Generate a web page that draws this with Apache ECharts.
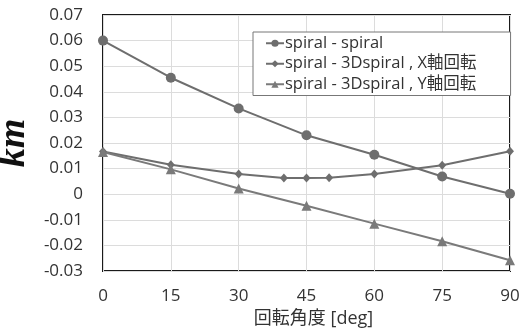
<!DOCTYPE html>
<html><head><meta charset="utf-8">
<script src="https://cdn.jsdelivr.net/npm/echarts@6/dist/echarts.min.js"></script>
<style>html,body{margin:0;padding:0;background:#fff}#c{width:522px;height:332px}</style>
</head><body><div id="c"></div>
<script>
const seriesNames = ['spiral - spiral', 'spiral - 3Dspiral , X軸回転', 'spiral - 3Dspiral , Y軸回転'];
const xA = [0, 15, 30, 45, 60, 75, 90];
const yA = [0.060, 0.0455, 0.0335, 0.023, 0.0154, 0.0069, 0.0002];
const xB = [0, 15, 30, 40, 45, 50, 60, 75, 90];
const yB = [0.0167, 0.0115, 0.0079, 0.0063, 0.0063, 0.0064, 0.0079, 0.0113, 0.0168];
const xC = [0, 15, 30, 45, 60, 75, 90];
const yC = [0.0165, 0.0097, 0.0022, -0.0045, -0.0115, -0.0184, -0.0258];
const yTicks = {min: -0.03, max: 0.07, interval: 0.01};
const xTicks = {min: 0, max: 90, interval: 15};

const pair = (xs, ys) => xs.map((x, i) => [x, ys[i]]);
const lineColor = '#6e6e6e';
const font = '"Open Sans", "Noto Sans CJK JP", sans-serif';
const chart = echarts.init(document.getElementById('c'), null, {renderer: 'canvas'});
chart.setOption({
  animation: false,
  backgroundColor: '#fff',
  grid: {left: 103, right: 12, top: 15, bottom: 61, show: true, borderColor: '#1a1a1a', borderWidth: 2,
         backgroundColor: 'transparent', outerBoundsMode: 'none', containLabel: false},
  legend: {
    orient: 'vertical', left: 253, top: 32, itemGap: 4, itemWidth: 18, itemHeight: 9,
    padding: [3, 34, 3, 12], borderColor: '#777', borderWidth: 1, backgroundColor: '#fff',
    textStyle: {fontFamily: font, fontSize: 16.5, color: '#333', padding: [0, 0, 0, -4]},
    data: seriesNames
  },
  xAxis: {
    type: 'value', min: xTicks.min, max: xTicks.max, interval: xTicks.interval,
    axisLine: {show: false}, axisTick: {show: false},
    splitLine: {show: true, lineStyle: {color: '#dcdcdc', width: 1}},
    axisLabel: {fontSize: 17, color: '#333', margin: 17, fontFamily: font},
    name: '回転角度 [deg]', nameLocation: 'middle', nameGap: 39,
    nameTextStyle: {fontSize: 18, color: '#333', fontFamily: font, padding: [0, 0, 0, 14]}
  },
  yAxis: {
    type: 'value', min: yTicks.min, max: yTicks.max, interval: yTicks.interval,
    axisLine: {show: false}, axisTick: {show: false},
    splitLine: {show: true, lineStyle: {color: '#dcdcdc', width: 1}},
    axisLabel: {fontSize: 17, color: '#333', margin: 20, fontFamily: font,
      formatter: v => { const r = Math.round(v * 100) / 100; return r === 0 ? '0' : r.toFixed(2); }},
    name: 'km', nameLocation: 'middle', nameGap: 67, nameRotate: 90,
    nameTextStyle: {fontSize: 38, fontStyle: 'italic', fontWeight: 'bold', color: '#111', fontFamily: '"Liberation Serif", "DejaVu Serif", serif'}
  },
  series: [
    {name: seriesNames[0], type: 'line', data: pair(xA, yA), symbol: 'circle', symbolSize: 10,
     lineStyle: {color: lineColor, width: 2}, itemStyle: {color: lineColor}},
    {name: seriesNames[1], type: 'line', data: pair(xB, yB), symbol: 'diamond', symbolSize: [8, 9],
     lineStyle: {color: lineColor, width: 2}, itemStyle: {color: lineColor}},
    {name: seriesNames[2], type: 'line', data: pair(xC, yC), symbol: 'triangle', symbolSize: 10,
     lineStyle: {color: '#7a7a7a', width: 2}, itemStyle: {color: '#7a7a7a'}}
  ]
});
</script></body></html>
